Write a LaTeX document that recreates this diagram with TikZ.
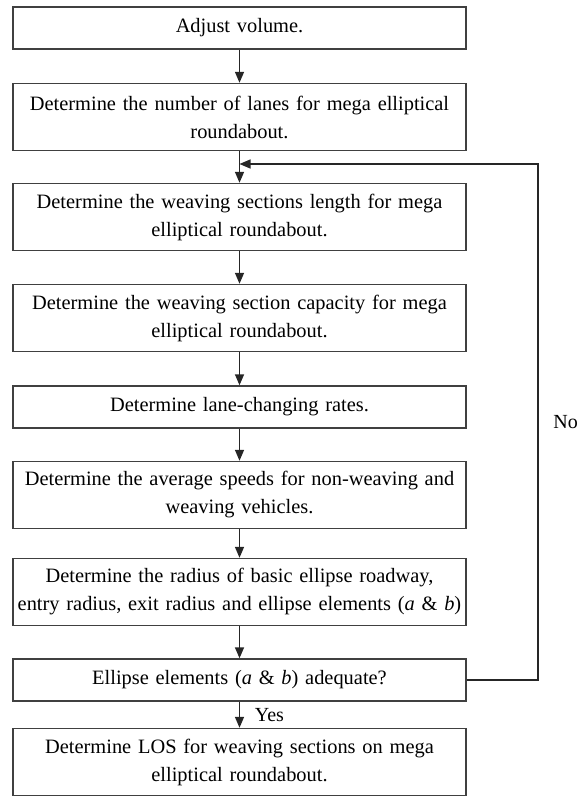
\documentclass[tikz,border=0pt]{standalone}
\usepackage{fontspec}
\setmainfont{Liberation Serif}
\usetikzlibrary{arrows.meta, positioning}

\begin{document}
\begin{tikzpicture}[x=0.5pt, y=-0.5pt,
    stepbox/.style={draw=black!75, line width=0.7pt, align=center,
      text width=224.5pt, inner xsep=1pt, minimum height=33.5pt,
      font=\fontsize{10.2}{14}\selectfont},
    onebox/.style={stepbox, minimum height=21pt},
    arr/.style={-{Triangle[length=5.5pt,width=4.5pt]}, line width=0.7pt, draw=black!85}]
  \useasboundingbox (0,0) rectangle (586,797);
  % boxes
  \node[onebox] (adjust) at (239.5,28) {Adjust volume.};
  \node[stepbox] (lanes) at (239.5,117) {Determine the number of lanes for mega elliptical\\roundabout.};
  \node[stepbox] (length) at (239.5,217) {Determine the weaving sections length for mega\\elliptical roundabout.};
  \node[stepbox] (capacity) at (239.5,318) {Determine the weaving section capacity for mega\\elliptical roundabout.};
  \node[onebox] (rates) at (239.5,407) {Determine lane-changing rates.};
  \node[stepbox] (speeds) at (239.5,495) {Determine the average speeds for non-weaving and\\weaving vehicles.};
  \node[stepbox] (radius) at (239.5,592) {Determine the radius of basic ellipse roadway,\\entry radius, exit radius and ellipse elements (\textit{a}~\&~\textit{b})};
  \node[onebox] (check) at (239.5,680) {Ellipse elements (\textit{a} \& \textit{b}) adequate?};
  \node[stepbox] (los) at (239.5,762) {Determine LOS for weaving sections on mega\\elliptical roundabout.};
  % arrows
  \draw[arr] (adjust) -- (lanes);
  \draw[arr] (lanes) -- (length);
  \draw[arr] (length) -- (capacity);
  \draw[arr] (capacity) -- (rates);
  \draw[arr] (rates) -- (speeds);
  \draw[arr] (speeds) -- (radius);
  \draw[arr] (radius) -- (check);
  \draw[arr] (check) -- node[right=4pt] {Yes} (los);
  % loop back
  \coordinate (merge) at (239.5,164);
  \coordinate (loop) at (538,680);
  \draw[arr] (check.east) -- (loop) |- node[pos=0.25, right=4pt] {No} (merge);
\end{tikzpicture}
\end{document}
